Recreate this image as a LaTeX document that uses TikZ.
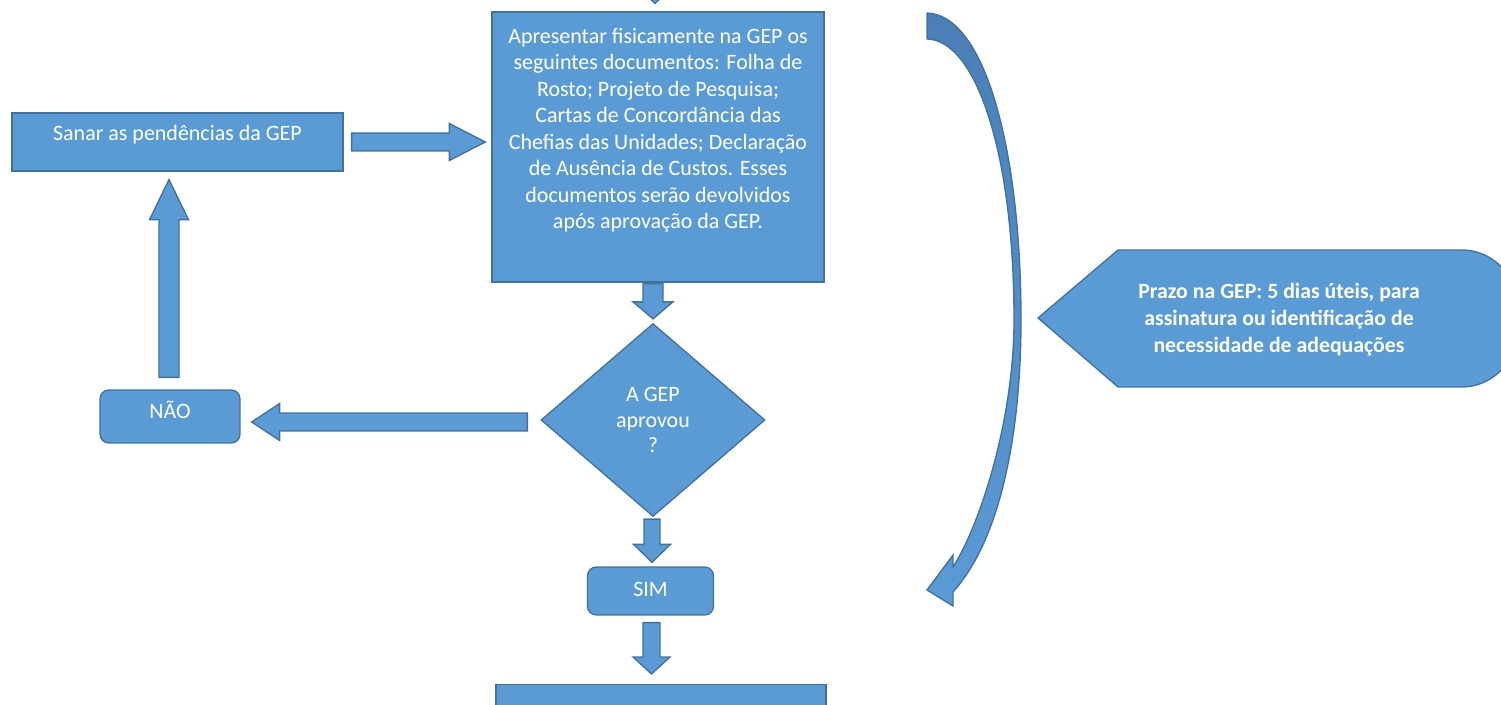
\documentclass[tikz,border=0pt]{standalone}
\usepackage{fontspec}
\setmainfont{Carlito}
\usetikzlibrary{shapes.geometric, positioning, calc}
\definecolor{boxblue}{RGB}{91,155,213}
\definecolor{boxline}{RGB}{65,113,156}
\definecolor{arcdark}{RGB}{74,126,182}
\tikzset{
  flow/.style={
	x=0.02cm, y=-0.02cm, % one unit is one pixel, y runs downwards
	every node/.style={text=white, font=\fontsize{12.5}{15}\selectfont}, % white Calibri-like text
  },
  stepbox/.style={draw=boxline, fill=boxblue, line width=0.75pt, inner sep=0pt}, % plain step
  answerbox/.style={stepbox, rounded corners=5pt}, % SIM / NAO boxes
  question/.style={stepbox, diamond, align=center}, % the decision
  blockarr/.style={draw=boxline, fill=boxblue, line width=0.75pt}, % fat arrows
}
% fat arrow from #1 to #2: half shaft #3, half head #4, head length #5
\newcommand{\blockarrow}[5]{%
  \path[blockarr] let \p1=(#1), \p2=(#2),
	\n1={atan2(\y2-\y1,\x2-\x1)}, \n2={veclen(\x2-\x1,\y2-\y1)} in
	{[shift={(\p1)}, rotate=\n1]
	(0,-#3) -- (\n2-#5,-#3) -- (\n2-#5,-#4) -- (\n2,0)
	-- (\n2-#5,#4) -- (\n2-#5,#3) -- (0,#3) -- cycle};
}

\begin{document}
\begin{tikzpicture}[flow]
  \useasboundingbox (0,0) rectangle (1501,705);

  % boxes of the flow
  \node[stepbox, minimum width=6.64cm, minimum height=5.4cm] (docs) at (658,147)
	{\parbox[c][5.4cm][t]{6.6cm}{\centering\fontsize{12.5}{15.1}\selectfont\vspace*{0.32cm}%
	Apresentar fisicamente na GEP os\\ seguintes documentos: Folha de\\ Rosto; Projeto de Pesquisa;\\
	Cartas de Concordância das\\ Chefias das Unidades; Declaração\\ de Ausência de Custos. Esses\\
	documentos serão devolvidos\\ após aprovação da GEP.}};
  \node[stepbox, minimum width=6.62cm, text height=0.56cm, text depth=0.6cm] (sanar) at (177.5,142) {Sanar as pendências da GEP};
  \node[question, minimum width=4.48cm, minimum height=3.86cm, font=\fontsize{12.5}{14.6}\selectfont] (gep) at (653,420) {A GEP\\aprovou\\?};
  \node[answerbox, minimum width=2.8cm, text height=0.58cm, text depth=0.48cm] (nao) at (170,416.5) {NÃO};
  \node[answerbox, minimum width=2.52cm, text height=0.6cm, text depth=0.36cm] (sim) at (650.5,591) {SIM};
  \node[stepbox, minimum width=6.6cm, minimum height=1.6cm, anchor=north] (next) at (661,684) {};
  \coordinate (fromabove) at (655,-60);

  % fat arrows between the boxes
  \blockarrow{fromabove}{$(fromabove |- docs.north)+(0,-8)$}{0.18cm}{0.37cm}{0.34cm}
  \blockarrow{$(sanar.east)+(8,0)$}{$(docs.west |- sanar.east)+(-6,0)$}{0.18cm}{0.37cm}{0.72cm}
  \blockarrow{$(gep.north |- docs.south)+(0,1)$}{$(gep.north)+(0,-4)$}{0.2cm}{0.4cm}{0.34cm}
  \blockarrow{$(gep.west)+(-13,2)$}{$(nao.east |- gep.west)+(11,2)$}{0.18cm}{0.37cm}{0.56cm}
  \blockarrow{$(nao.north)+(-1,-12)$}{$(nao.north |- sanar.south)+(-1,8)$}{0.2cm}{0.39cm}{0.8cm}
  \blockarrow{$(gep.south)+(-1,2)$}{$(gep.south |- sim.north)+(-1,-4)$}{0.16cm}{0.37cm}{0.36cm}
  \blockarrow{$(sim.south)+(1,7)$}{$(sim.south |- next.north)+(1,-10)$}{0.17cm}{0.37cm}{0.34cm}

  % curved arrow on the right
  \draw[boxline, line width=0.75pt, shading=axis, top color=arcdark, middle color=arcdark, bottom color=boxblue]
	(927,13) .. controls (985,15) and (1021,150) .. (1021,320)
	.. controls (1021,435) and (1000,540) .. (953,592)
	-- (953,606) -- (927,590) -- (953,555) -- (953,567)
	.. controls (980,525) and (1014,420) .. (1014,320)
	.. controls (1014,150) and (975,40) .. (927,39) -- cycle;

  % deadline shape
  \draw[blockarr] (1038,318) -- (1118,250) -- (1462,250)
	arc[start angle=90, end angle=-90, x radius=1.2cm, y radius=1.37cm] -- (1118,387) -- cycle;
  \node[align=center, font=\bfseries\fontsize{12.4}{15.4}\selectfont] (prazo) at (1279,320)
	{Prazo na GEP: 5 dias úteis, para\\assinatura ou identificação de\\necessidade de adequações};
\end{tikzpicture}
\end{document}
